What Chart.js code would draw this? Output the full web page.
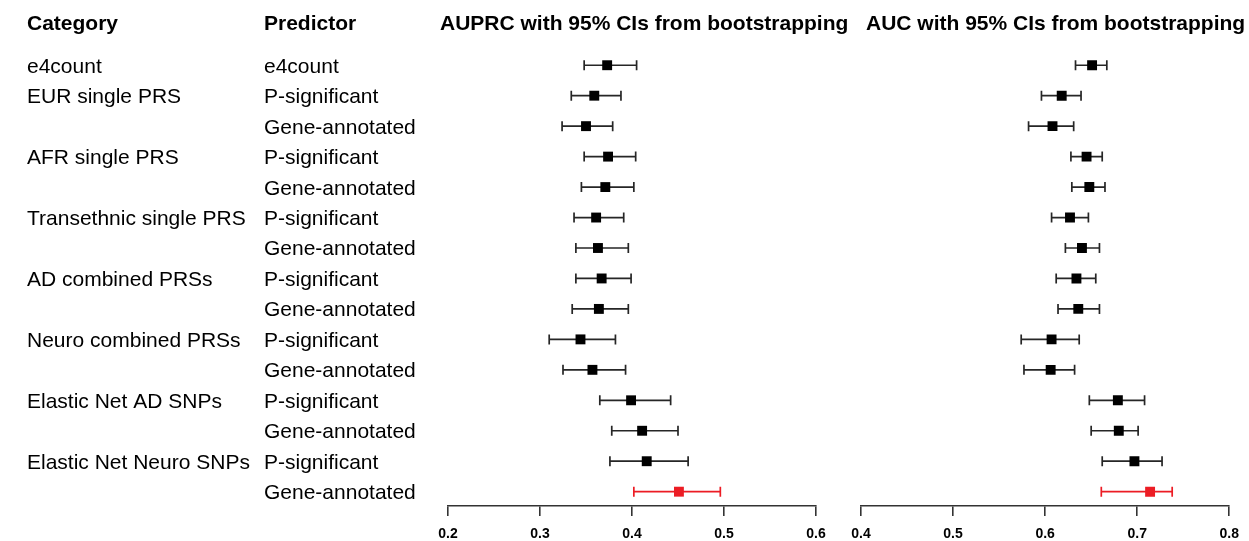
<!DOCTYPE html>
<html>
<head>
<meta charset="utf-8">
<script src="https://cdn.jsdelivr.net/npm/chart.js@4.4.1/dist/chart.umd.min.js"></script>
<style>
  html, body { margin: 0; padding: 0; background: #ffffff; }
  #wrap { position: relative; width: 1249px; height: 541px; overflow: hidden; }
  canvas { position: absolute; top: 0; }
</style>
</head>
<body>
<div id="wrap">
  <canvas id="cA" width="1249" height="541" style="left:0"></canvas>
  <canvas id="cB" width="409" height="541" style="left:840px"></canvas>
</div>
<script>
// ---------- data ----------
const CATEGORIES = ['e4count', 'EUR single PRS', '', 'AFR single PRS', '', 'Transethnic single PRS', '',
  'AD combined PRSs', '', 'Neuro combined PRSs', '', 'Elastic Net AD SNPs', '', 'Elastic Net Neuro SNPs', ''];
const PREDICTORS = ['e4count', 'P-significant', 'Gene-annotated', 'P-significant', 'Gene-annotated',
  'P-significant', 'Gene-annotated', 'P-significant', 'Gene-annotated', 'P-significant', 'Gene-annotated',
  'P-significant', 'Gene-annotated', 'P-significant', 'Gene-annotated'];

const AUPRC_EST = [0.373, 0.359, 0.350, 0.374, 0.371, 0.361, 0.363, 0.367, 0.364, 0.344, 0.357, 0.399, 0.411, 0.416, 0.451];
const AUPRC_LO  = [0.348, 0.334, 0.324, 0.348, 0.345, 0.337, 0.339, 0.339, 0.335, 0.310, 0.325, 0.365, 0.378, 0.376, 0.402];
const AUPRC_HI  = [0.405, 0.388, 0.379, 0.404, 0.402, 0.391, 0.396, 0.399, 0.396, 0.382, 0.393, 0.442, 0.450, 0.461, 0.496];

const AUC_EST = [0.651, 0.618, 0.608, 0.645, 0.648, 0.627, 0.640, 0.634, 0.636, 0.607, 0.606, 0.679, 0.680, 0.697, 0.714];
const AUC_LO  = [0.633, 0.596, 0.582, 0.628, 0.629, 0.607, 0.622, 0.612, 0.614, 0.574, 0.577, 0.648, 0.650, 0.662, 0.661];
const AUC_HI  = [0.667, 0.639, 0.631, 0.662, 0.665, 0.647, 0.659, 0.655, 0.659, 0.637, 0.632, 0.708, 0.701, 0.727, 0.738];

const AUPRC_TICKS = [0.2, 0.3, 0.4, 0.5, 0.6];
const AUC_TICKS = [0.4, 0.5, 0.6, 0.7, 0.8];

const HIGHLIGHT_INDEX = 14;

// ---------- styles ----------
const FONT = '"Liberation Sans", Arial, Helvetica, sans-serif';
const RED = '#ec1c24';
const BLACK = '#000000';
const BAR = '#262626';

function colorsFor(n) {
  return Array.from({length: n}, (_, i) => i === HIGHLIGHT_INDEX ? RED : BLACK);
}

function errorBarPlugin(lo, hi) {
  return {
    id: 'errbars',
    beforeDatasetsDraw(chart) {
      const ctx = chart.ctx, xs = chart.scales.x, ys = chart.scales.y;
      ctx.save();
      ctx.lineWidth = 1.7;
      for (let i = 0; i < lo.length; i++) {
        const y = ys.getPixelForValue(i + 1);
        const x1 = xs.getPixelForValue(lo[i]);
        const x2 = xs.getPixelForValue(hi[i]);
        ctx.strokeStyle = i === HIGHLIGHT_INDEX ? RED : BAR;
        ctx.beginPath();
        ctx.moveTo(x1, y); ctx.lineTo(x2, y);
        ctx.moveTo(x1, y - 5); ctx.lineTo(x1, y + 5);
        ctx.moveTo(x2, y - 5); ctx.lineTo(x2, y + 5);
        ctx.stroke();
      }
      ctx.restore();
    }
  };
}

function textPlugin(drawLabels, header, headerX) {
  return {
    id: 'texts',
    afterDraw(chart) {
      const ctx = chart.ctx, ys = chart.scales.y;
      ctx.save();
      ctx.fillStyle = '#000';
      ctx.textBaseline = 'alphabetic';
      ctx.textAlign = 'left';
      ctx.font = 'bold 21px ' + FONT;
      if (drawLabels) {
        ctx.fillText('Category', 27, 30);
        ctx.fillText('Predictor', 264, 30);
      }
      ctx.fillText(header, headerX, 30);
      if (drawLabels) {
        ctx.font = '21px ' + FONT;
        for (let i = 0; i < PREDICTORS.length; i++) {
          const y = ys.getPixelForValue(i + 1) + 7.5;
          if (CATEGORIES[i]) ctx.fillText(CATEGORIES[i], 27, y);
          ctx.fillText(PREDICTORS[i], 264, y);
        }
      }
      ctx.restore();
    }
  };
}

function makeChart(canvasId, est, lo, hi, ticks, padLeft, padRight, drawLabels, header, headerX) {
  const n = est.length;
  return new Chart(document.getElementById(canvasId), {
    type: 'scatter',
    data: {
      datasets: [{
        data: est.map((v, i) => ({x: v, y: i + 1})),
        pointStyle: 'rect',
        pointRadius: 7,
        pointBorderWidth: 0,
        pointBackgroundColor: colorsFor(n),
        pointBorderColor: colorsFor(n),
        pointHoverRadius: 7
      }]
    },
    options: {
      responsive: false,
      animation: false,
      devicePixelRatio: 1,
      layout: { padding: { left: padLeft, right: padRight, top: 50, bottom: 0 } },
      plugins: { legend: { display: false }, tooltip: { enabled: false } },
      events: [],
      scales: {
        x: {
          type: 'linear',
          position: 'bottom',
          min: ticks[0],
          max: ticks[ticks.length - 1],
          afterBuildTicks: s => { s.ticks = ticks.map(v => ({value: v})); },
          afterFit: s => { s.height = 35; },
          ticks: {
            color: '#000',
            padding: 10,
            font: { family: FONT, size: 14, weight: 'bold' },
            callback: v => Number(v).toFixed(1),
            maxRotation: 0
          },
          grid: { drawOnChartArea: false, drawTicks: true, tickLength: 10, color: '#333', lineWidth: 1.6 },
          border: { display: true, color: '#333', width: 1.6 }
        },
        y: {
          type: 'linear',
          min: 0.5,
          max: 15.47,
          reverse: true,
          display: false
        }
      }
    },
    plugins: [errorBarPlugin(lo, hi), textPlugin(drawLabels, header, headerX)]
  });
}

makeChart('cA', AUPRC_EST, AUPRC_LO, AUPRC_HI, AUPRC_TICKS, 448, 1249 - 816, true,
  'AUPRC with 95% CIs from bootstrapping', 440);
makeChart('cB', AUC_EST, AUC_LO, AUC_HI, AUC_TICKS, 21, 409 - 390, false,
  'AUC with 95% CIs from bootstrapping', 26);
</script>
</body>
</html>
